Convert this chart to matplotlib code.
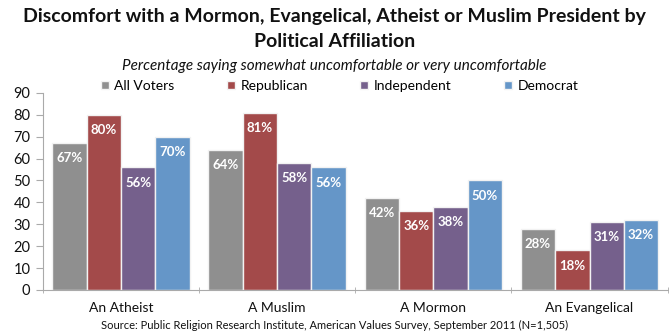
import matplotlib
matplotlib.use("Agg")
import matplotlib.pyplot as plt
import numpy as np

categories = ["An Atheist", "A Muslim", "A Mormon", "An Evangelical"]
series = ["All Voters", "Republican", "Independent", "Democrat"]
all_voters = [67, 64, 42, 28]
republican = [80, 81, 36, 18]
independent = [56, 58, 38, 31]
democrat = [70, 56, 50, 32]
colors = ["#8f8f8f", "#a34a4a", "#75608c", "#6596c8"]
yticks = [0, 10, 20, 30, 40, 50, 60, 70, 80, 90]

plt.rcParams['font.family'] = ['Lato', 'DejaVu Sans']

fig = plt.figure(figsize=(6.69, 3.34), dpi=100)
ax = fig.add_axes([0.064, 0.132, 0.934, 0.59])

values = [all_voters, republican, independent, democrat]
x = np.arange(len(categories))
w = 0.22
offsets = [-1.5, -0.5, 0.5, 1.5]
for vals, off, c, name in zip(values, offsets, colors, series):
    bars = ax.bar(x + off * w, vals, width=w, color=c, edgecolor="#f2f2f2", linewidth=1.0, label=name, zorder=2)
    for b, v in zip(bars, vals):
        ax.annotate(f"{v}%", (b.get_x() + b.get_width() / 2, v), xytext=(0, -11),
                    textcoords="offset points", ha="center", va="center",
                    color="white", fontweight="bold", fontsize=9.5)

ax.set_xlim(-0.5, 3.5)
ax.set_ylim(0, 90)
ax.set_yticks(yticks)
ax.set_yticklabels([str(t) for t in yticks], fontsize=10.5, color="#111111")
ax.set_xticks(x)
ax.set_xticklabels(categories, fontsize=10, color="#111111")
ax.set_xticks([-0.5, 0.5, 1.5, 2.5, 3.5], minor=True)
ax.tick_params(axis="x", which="major", length=0, pad=9)
ax.tick_params(axis="x", which="minor", length=5, color="#aaaaaa", direction="inout")
ax.tick_params(axis="y", length=5, color="#aaaaaa", direction="out", pad=4)
for s in ["top", "right"]:
    ax.spines[s].set_visible(False)
ax.spines["left"].set_color("#aaaaaa")
ax.spines["bottom"].set_color("#aaaaaa")

leg = ax.legend(loc="center", bbox_to_anchor=(0.475, 1.035), ncol=4, frameon=False,
                fontsize=10, handlelength=0.6, handleheight=0.6, columnspacing=3.75,
                handletextpad=0.4, borderaxespad=0)

fig.text(0.5, 0.95, "Discomfort with a Mormon, Evangelical, Atheist or Muslim President by",
         ha="center", va="center", fontsize=14, fontweight="bold", color="#111111")
fig.text(0.5, 0.877, "Political Affiliation", ha="center", va="center",
         fontsize=14, fontweight="bold", color="#111111")
fig.text(0.5, 0.802, "Percentage saying somewhat uncomfortable or very uncomfortable",
         ha="center", va="center", fontsize=11, style="italic", color="#111111")
fig.text(0.5, 0.027, "Source: Public Religion Research Institute, American Values Survey, September 2011 (N=1,505)",
         ha="center", va="center", fontsize=8, color="#111111")

fig.savefig("out.png", dpi=100)
